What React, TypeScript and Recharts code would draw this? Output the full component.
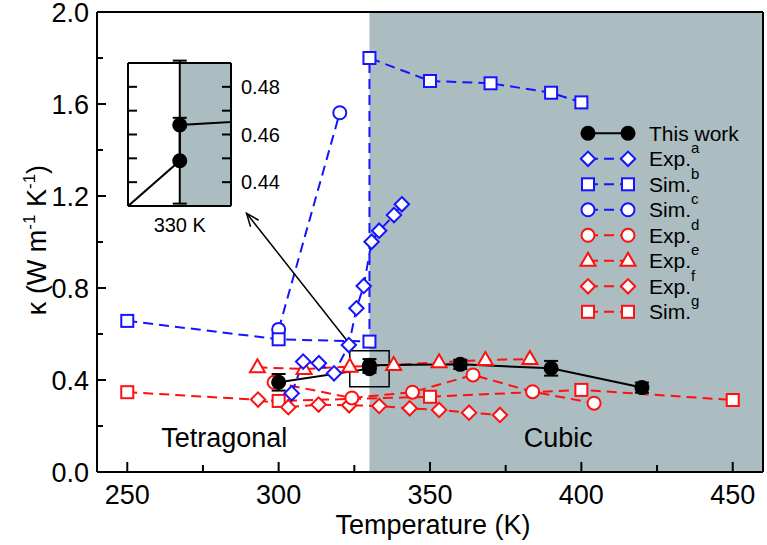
import React from 'react';
import { LineChart, Line, XAxis, YAxis, ReferenceArea, ReferenceLine, ErrorBar, Legend } from 'recharts';

const FONT = '"Liberation Sans", Arial, Helvetica, sans-serif';
const BLUE = '#1414ff';
const RED = '#ff1010';
const GRAY = '#abbdc0';

// ---- data ----
const thisWorkT = [300, 330, 330, 360, 390, 420];
const thisWorkK = [0.39, 0.449, 0.464, 0.468, 0.451, 0.367];
const thisWorkErrLow = [0.036, 0.018, 0, 0.02, 0.032, 0.022];
const thisWorkErrHigh = [0.036, 0.018, 0.027, 0.02, 0.032, 0.022];

const expAT = [304.3, 308.1, 313.3, 318.3, 323.2, 325.7, 328.1, 330.7, 333.2, 338.1, 340.7];
const expAK = [0.342, 0.48, 0.473, 0.429, 0.552, 0.712, 0.809, 1.001, 1.049, 1.117, 1.164];

const simBT = [250, 300, 330, 330, 350, 370, 390, 400];
const simBK = [0.657, 0.577, 0.567, 1.8, 1.7, 1.69, 1.649, 1.607];

const simCT = [300, 320.2];
const simCK = [0.62, 1.562];

const expDT = [298.5, 324.2, 344.2, 364.2, 383.9, 404.2];
const expDK = [0.39, 0.322, 0.347, 0.422, 0.349, 0.299];

const expET = [293, 308.4, 323.5, 338, 353, 368.3, 383];
const expEK = [0.455, 0.448, 0.458, 0.465, 0.477, 0.487, 0.491];

const expFT = [293.2, 303.2, 313.2, 323.3, 333.2, 343.3, 353, 362.9, 373.1];
const expFK = [0.315, 0.282, 0.293, 0.29, 0.287, 0.277, 0.27, 0.258, 0.248];

const simGT = [250, 300, 350, 400, 450];
const simGK = [0.347, 0.309, 0.327, 0.357, 0.313];

const xTicks = [250, 275, 300, 325, 350, 375, 400, 425, 450];
const yTicks = [0, 0.2, 0.4, 0.6, 0.8, 1.0, 1.2, 1.4, 1.6, 1.8, 2.0];
const insetYTicks = [0.44, 0.45, 0.46, 0.47, 0.48];
const insetXTicks = [330];

const legendNames = ['This work', 'Exp.', 'Sim.', 'Sim.', 'Exp.', 'Exp.', 'Exp.', 'Sim.'];
const legendSups = ['', 'a', 'b', 'c', 'd', 'e', 'f', 'g'];

const phaseNames = ['Tetragonal', 'Cubic'];
const transitionT = 330;

// ---- build ----
const pts = (ts: number[], ks: number[]) => ts.map((t, i) => ({ t, k: ks[i] }));
const thisWork = thisWorkT.map((t, i) => ({ t, k: thisWorkK[i], err: [thisWorkErrLow[i], thisWorkErrHigh[i]] }));
const expA = pts(expAT, expAK);
const simB = pts(simBT, simBK);
const simC = pts(simCT, simCK);
const expD = pts(expDT, expDK);
const expE = pts(expET, expEK);
const expF = pts(expFT, expFK);
const simG = pts(simGT, simGK);

type Shape = 'filled' | 'diamond' | 'square' | 'circle' | 'triangle';

function marker(shape: Shape, color: string, cx: number, cy: number, key?: string) {
  const sw = 2;
  switch (shape) {
    case 'filled':
      return <circle key={key} cx={cx} cy={cy} r={7.5} fill="#000" />;
    case 'diamond': {
      const h = 7.2;
      return <polygon key={key} points={`${cx},${cy - h} ${cx + h},${cy} ${cx},${cy + h} ${cx - h},${cy}`} fill="#fff" stroke={color} strokeWidth={sw} />;
    }
    case 'square': {
      const h = 6;
      return <rect key={key} x={cx - h} y={cy - h} width={2 * h} height={2 * h} fill="#fff" stroke={color} strokeWidth={sw} />;
    }
    case 'circle':
      return <circle key={key} cx={cx} cy={cy} r={6.5} fill="#fff" stroke={color} strokeWidth={sw} />;
    case 'triangle':
      return <polygon key={key} points={`${cx},${cy - 8} ${cx + 7.5},${cy + 5} ${cx - 7.5},${cy + 5}`} fill="#fff" stroke={color} strokeWidth={sw} />;
  }
  return null;
}

const dotFn = (shape: Shape, color: string) => (p: any) => {
  const key = `d-${p.index}`;
  if (p.cx == null || p.cy == null) return <g key={key} />;
  return marker(shape, color, p.cx, p.cy, key) as any;
};

const legendShapes: Shape[] = ['filled', 'diamond', 'square', 'circle', 'circle', 'triangle', 'diamond', 'square'];
const legendColors = ['#000', BLUE, BLUE, BLUE, RED, RED, RED, RED];

const LegendBox = () => (
  <svg width={195} height={215} style={{ display: 'block', overflow: 'visible' }}>
    {legendNames.map((name, i) => {
      const cy = 18.3 + 25.5 * i;
      const dashed = i > 0;
      return (
        <g key={i}>
          <line x1={18} x2={58} y1={cy} y2={cy} stroke={legendColors[i]} strokeWidth={2} strokeDasharray={dashed ? '10 6' : undefined} />
          {marker(legendShapes[i], legendColors[i], 18, cy)}
          {marker(legendShapes[i], legendColors[i], 58, cy)}
          <text x={79} y={cy + 7.5} fontFamily={FONT} fontSize={21} fill="#000">
            {name}
            {legendSups[i] ? <tspan dy={-13} fontSize={15}>{legendSups[i]}</tspan> : null}
          </text>
        </g>
      );
    })}
  </svg>
);

const isMajor = (v: number, step: number) => Math.abs(v / step - Math.round(v / step)) < 1e-6;

const LeftTick = (p: any) => {
  const v = p.payload.value;
  const major = isMajor(v, 0.4);
  return (
    <g>
      <line x1={p.x} x2={p.x + (major ? 9 : 6)} y1={p.y} y2={p.y} stroke="#000" strokeWidth={2} />
      {major && (
        <text x={p.x - 8} y={p.y} dy="0.36em" textAnchor="end" fontFamily={FONT} fontSize={27} fill="#000">
          {v.toFixed(1)}
        </text>
      )}
    </g>
  );
};
const RightTick = (p: any) => {
  const v = p.payload.value;
  const major = isMajor(v, 0.4);
  return <line x1={p.x} x2={p.x - (major ? 9 : 6)} y1={p.y} y2={p.y} stroke="#000" strokeWidth={2} />;
};
const BottomTick = (p: any) => {
  const v = p.payload.value;
  const major = isMajor(v, 50);
  return (
    <g>
      <line x1={p.x} x2={p.x} y1={p.y} y2={p.y - (major ? 10 : 7)} stroke="#000" strokeWidth={2} />
      {major && (
        <text x={p.x} y={p.y + 32} textAnchor="middle" fontFamily={FONT} fontSize={27} fill="#000">
          {v}
        </text>
      )}
    </g>
  );
};
const TopTick = (p: any) => {
  const v = p.payload.value;
  const major = isMajor(v, 50);
  return <line x1={p.x} x2={p.x} y1={p.y} y2={p.y + (major ? 9 : 6)} stroke="#000" strokeWidth={2} />;
};

const InsetLeftTick = (p: any) => <line x1={p.x} x2={p.x + 9} y1={p.y} y2={p.y} stroke="#000" strokeWidth={2} />;
const InsetRightTick = (p: any) => {
  const v = p.payload.value;
  const lab = isMajor(v, 0.02);
  return (
    <g>
      <line x1={p.x} x2={p.x - 9} y1={p.y} y2={p.y} stroke="#000" strokeWidth={2} />
      {lab && (
        <text x={p.x + 10} y={p.y} dy="0.36em" textAnchor="start" fontFamily={FONT} fontSize={20} fill="#000">
          {v.toFixed(2)}
        </text>
      )}
    </g>
  );
};
const InsetBottomTick = (p: any) => (
  <text x={p.x} y={p.y + 26} textAnchor="middle" fontFamily={FONT} fontSize={20} fill="#000">
    {`${p.payload.value} K`}
  </text>
);

const YTitle = (props: any) => {
  const vb = props.viewBox || { x: 0, y: 12, width: 97, height: 460 };
  const cx = 46;
  const cy = vb.y + vb.height / 2 - 2;
  return (
    <text x={cx} y={cy} transform={`rotate(-90, ${cx}, ${cy})`} textAnchor="middle" fontFamily={FONT} fontSize={27} fill="#000">
      κ (W m<tspan dy={-11} fontSize={17}>-1</tspan>
      <tspan dy={11}> K</tspan>
      <tspan dy={-11} fontSize={17}>-1</tspan>
      <tspan dy={11}>)</tspan>
    </text>
  );
};
const XTitle = (props: any) => {
  const vb = props.viewBox || { x: 97, y: 472, width: 666, height: 60 };
  return (
    <text x={vb.x + vb.width / 2 + 3} y={vb.y + 62} textAnchor="middle" fontFamily={FONT} fontSize={27} fill="#000">
      Temperature (K)
    </text>
  );
};

const phaseLabel = (name: string, dx: number) => (props: any) => {
  const vb = props.viewBox;
  if (!vb) return null;
  return (
    <text x={vb.x + vb.width / 2 + dx} y={vb.y + vb.height - 25} textAnchor="middle" fontFamily={FONT} fontSize={27} fill="#000">
      {name}
    </text>
  );
};

const ArrowShape = (p: any) => {
  const { x1, y1, x2, y2 } = p;
  if ([x1, y1, x2, y2].some((v) => v == null || isNaN(v))) return <g />;
  const ang = Math.atan2(y2 - y1, x2 - x1);
  const L = 14;
  const a = 0.38;
  const ax1 = x2 - L * Math.cos(ang - a);
  const ay1 = y2 - L * Math.sin(ang - a);
  const ax2 = x2 - L * Math.cos(ang + a);
  const ay2 = y2 - L * Math.sin(ang + a);
  return (
    <g>
      <line x1={x1} y1={y1} x2={x2} y2={y2} stroke="#000" strokeWidth={1.5} />
      <polyline points={`${ax1},${ay1} ${x2},${y2} ${ax2},${ay2}`} fill="none" stroke="#000" strokeWidth={1.5} />
    </g>
  );
};

const axisStyle = { stroke: '#000', strokeWidth: 2 };
const dash = '10 6';

export default function App() {
  return (
    <div style={{ position: 'absolute', left: 0, top: 0, width: 767, height: 545, background: '#fff' }}>
      <LineChart width={767} height={545} margin={{ top: 11, right: 3, bottom: 13, left: 0 }}>
        <XAxis dataKey="t" type="number" domain={[240, 460]} ticks={xTicks} interval={0} height={60}
          tickSize={0} tickMargin={0} tickLine={false} tick={<BottomTick />} axisLine={axisStyle}
          label={{ content: XTitle }} />
        <XAxis xAxisId="top" orientation="top" dataKey="t" type="number" domain={[240, 460]} ticks={xTicks} interval={0}
          height={1} tickSize={0} tickMargin={0} tickLine={false} tick={<TopTick />} axisLine={axisStyle} />
        <YAxis type="number" domain={[0, 2]} ticks={yTicks} interval={0} width={97}
          tickSize={0} tickMargin={0} tickLine={false} tick={<LeftTick />} axisLine={axisStyle}
          label={{ content: YTitle }} />
        <YAxis yAxisId="r" orientation="right" type="number" domain={[0, 2]} ticks={yTicks} interval={0} width={1}
          tickSize={0} tickMargin={0} tickLine={false} tick={<RightTick />} axisLine={axisStyle} />

        <ReferenceArea x1={transitionT} x2={460} y1={0} y2={2} fill={GRAY} fillOpacity={1} stroke="none"
          label={{ content: phaseLabel(phaseNames[1], -8) }} />
        <ReferenceArea x1={240} x2={transitionT} y1={0} y2={2} fill="none" stroke="none"
          label={{ content: phaseLabel(phaseNames[0], -9) }} />

        <Line data={simG} dataKey="k" stroke={RED} strokeWidth={2} strokeDasharray={dash} dot={dotFn('square', RED)} isAnimationActive={false} />
        <Line data={expF} dataKey="k" stroke={RED} strokeWidth={2} strokeDasharray={dash} dot={dotFn('diamond', RED)} isAnimationActive={false} />
        <Line data={expD} dataKey="k" stroke={RED} strokeWidth={2} strokeDasharray={dash} dot={dotFn('circle', RED)} isAnimationActive={false} />
        <Line data={expE} dataKey="k" stroke={RED} strokeWidth={2} strokeDasharray={dash} dot={dotFn('triangle', RED)} isAnimationActive={false} />
        <Line data={simC} dataKey="k" stroke={BLUE} strokeWidth={2} strokeDasharray={dash} dot={dotFn('circle', BLUE)} isAnimationActive={false} />
        <Line data={simB} dataKey="k" stroke={BLUE} strokeWidth={2} strokeDasharray={dash} dot={dotFn('square', BLUE)} isAnimationActive={false} />
        <Line data={expA} dataKey="k" stroke={BLUE} strokeWidth={2} strokeDasharray={dash} dot={dotFn('diamond', BLUE)} isAnimationActive={false} />
        <Line data={thisWork} dataKey="k" stroke="#000" strokeWidth={2} dot={dotFn('filled', '#000')} isAnimationActive={false}>
          <ErrorBar dataKey="err" width={7} stroke="#000" strokeWidth={2} direction="y" />
        </Line>

        <ReferenceArea x1={323.5} x2={336.5} y1={0.371} y2={0.527} fill="none" stroke="#000" strokeWidth={1.5} />
        <ReferenceLine segment={[{ x: 323.2, y: 0.561 }, { x: 289.4, y: 1.125 }]} shape={ArrowShape} />

        <Legend layout="horizontal" verticalAlign="middle" align="center" content={<LegendBox />}
          wrapperStyle={{ position: 'absolute', left: 570, top: 115, width: 195, height: 215 }} />
      </LineChart>

      <div style={{ position: 'absolute', left: 120, top: 55, width: 160, height: 185 }}>
        <LineChart width={160} height={185} margin={{ top: 7, right: 0, bottom: 0, left: 0 }}>
          <XAxis dataKey="t" type="number" domain={[320.3, 339.6]} allowDataOverflow ticks={insetXTicks} interval={0}
            height={34} tickSize={0} tickMargin={0} tickLine={false} tick={<InsetBottomTick />} axisLine={axisStyle} />
          <XAxis xAxisId="top" orientation="top" dataKey="t" type="number" domain={[320.3, 339.6]} allowDataOverflow
            height={1} tick={false} tickLine={false} axisLine={axisStyle} />
          <YAxis type="number" domain={[0.43, 0.49]} allowDataOverflow ticks={insetYTicks} interval={0} width={8}
            tickSize={0} tickMargin={0} tickLine={false} tick={<InsetLeftTick />} axisLine={axisStyle} />
          <YAxis yAxisId="r" orientation="right" type="number" domain={[0.43, 0.49]} allowDataOverflow ticks={insetYTicks}
            interval={0} width={49} tickSize={0} tickMargin={0} tickLine={false} tick={<InsetRightTick />} axisLine={axisStyle} />
          <ReferenceArea x1={320.3} x2={transitionT} y1={0.43} y2={0.49} fill="#fff" fillOpacity={1} stroke="none" />
          <ReferenceArea x1={transitionT} x2={339.6} y1={0.43} y2={0.49} fill={GRAY} fillOpacity={1} stroke="none" />
          <Line data={thisWork} dataKey="k" stroke="#000" strokeWidth={2} dot={dotFn('filled', '#000')} isAnimationActive={false}>
            <ErrorBar dataKey="err" width={7} stroke="#000" strokeWidth={2} direction="y" />
          </Line>
        </LineChart>
      </div>
    </div>
  );
}
